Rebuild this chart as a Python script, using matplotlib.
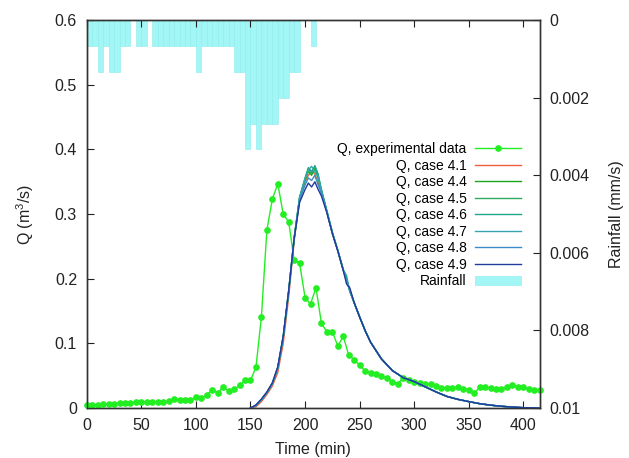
import numpy as np
import matplotlib
matplotlib.use('Agg')
import matplotlib.pyplot as plt

plt.rcParams['font.family'] = ['Liberation Sans', 'DejaVu Sans']
plt.rcParams['mathtext.default'] = 'regular'

# measured discharge, every 5 min
exp_t = np.arange(0, 420, 5)
exp_q = [0.005, 0.005, 0.0055, 0.006, 0.0065, 0.007, 0.0075, 0.008, 0.0085, 0.009,
         0.0095, 0.0095, 0.0095, 0.0095, 0.010, 0.0105, 0.014, 0.012, 0.012, 0.0125,
         0.0165, 0.015, 0.021, 0.028, 0.024, 0.032, 0.027, 0.029, 0.035, 0.043,
         0.043, 0.063, 0.141, 0.275, 0.323, 0.347, 0.300, 0.288, 0.229, 0.224,
         0.171, 0.161, 0.186, 0.131, 0.118, 0.118, 0.096, 0.111, 0.082, 0.075,
         0.066, 0.058, 0.054, 0.053, 0.049, 0.047, 0.041, 0.038, 0.046, 0.044,
         0.040, 0.039, 0.037, 0.037, 0.034, 0.031, 0.031, 0.031, 0.032, 0.030,
         0.028, 0.023, 0.032, 0.032, 0.031, 0.030, 0.030, 0.032, 0.036, 0.033,
         0.032, 0.029, 0.028, 0.028]

# simulated discharge
sim_t = [150, 155, 160, 165, 170, 175, 180, 185, 190, 195, 200, 203, 206, 209, 212, 215,
         220, 225, 230, 235, 238, 241, 245, 250, 255, 260, 270, 280, 290, 300, 310, 320,
         330, 340, 350, 360, 370, 380, 390, 400, 415]
tail = [0.076, 0.058, 0.047, 0.041, 0.033, 0.025, 0.018, 0.0135, 0.010, 0.0068,
        0.0045, 0.0028, 0.0015, 0.0006, 0.0]
case_41 = [0, 0.002, 0.010, 0.021, 0.034, 0.055, 0.100, 0.172, 0.258, 0.322, 0.350, 0.360,
           0.366, 0.362, 0.348, 0.334, 0.303, 0.270, 0.243, 0.213, 0.197, 0.182, 0.163,
           0.141, 0.120, 0.102] + tail
case_44 = [0, 0.004, 0.013, 0.024, 0.038, 0.062, 0.110, 0.180, 0.262, 0.325, 0.352, 0.366,
           0.360, 0.372, 0.355, 0.336, 0.304, 0.271, 0.244, 0.214, 0.198, 0.182, 0.163,
           0.141, 0.120, 0.102] + tail
case_45 = [0, 0.004, 0.013, 0.024, 0.038, 0.062, 0.110, 0.181, 0.263, 0.326, 0.355, 0.370,
           0.362, 0.375, 0.360, 0.338, 0.305, 0.272, 0.244, 0.214, 0.200, 0.181, 0.163,
           0.141, 0.120, 0.102] + tail
case_46 = [0, 0.004, 0.013, 0.024, 0.038, 0.062, 0.110, 0.181, 0.263, 0.326, 0.356, 0.372,
           0.366, 0.374, 0.362, 0.337, 0.305, 0.272, 0.244, 0.214, 0.205, 0.180, 0.163,
           0.141, 0.120, 0.102] + tail
case_47 = [0, 0.004, 0.013, 0.024, 0.038, 0.062, 0.110, 0.181, 0.263, 0.326, 0.354, 0.368,
           0.374, 0.365, 0.358, 0.335, 0.304, 0.271, 0.244, 0.214, 0.198, 0.182, 0.163,
           0.141, 0.120, 0.102] + tail
case_48 = [0, 0.004, 0.013, 0.024, 0.038, 0.062, 0.110, 0.180, 0.262, 0.322, 0.345, 0.356,
           0.352, 0.360, 0.345, 0.332, 0.303, 0.270, 0.243, 0.213, 0.197, 0.182, 0.163,
           0.141, 0.120, 0.102] + tail
case_49 = [0, 0.005, 0.014, 0.025, 0.039, 0.064, 0.112, 0.182, 0.262, 0.318, 0.338, 0.348,
           0.342, 0.350, 0.338, 0.328, 0.302, 0.270, 0.243, 0.213, 0.192, 0.186, 0.163,
           0.141, 0.120, 0.102] + tail
case_names = ['4.1', '4.4', '4.5', '4.6', '4.7', '4.8', '4.9']
case_colors = ['#f0603c', '#1aa81a', '#2eaa5c', '#1fa68a', '#36a6b2', '#3d8cc8', '#1f3c9c']

# rainfall, 5 min blocks starting at rain_t
rain_t = np.arange(0, 210, 5)
rain = [0.00067, 0.00067, 0.00133, 0.00067, 0.00133, 0.00133, 0.00067, 0.00067, 0, 0.00067,
        0.00067, 0, 0.00067, 0.00067, 0.00067, 0.00067, 0.00067, 0.00067, 0.00067, 0.00067,
        0.00133, 0.00067, 0.00067, 0.00067, 0.00067, 0.00067, 0.00067, 0.00133, 0.00133,
        0.00333, 0.00267, 0.00333, 0.00267, 0.00267, 0.00267, 0.002, 0.002, 0.00133,
        0.00133, 0, 0, 0.00067]

x_ticks = [0, 50, 100, 150, 200, 250, 300, 350, 400]
q_ticks = [0, 0.1, 0.2, 0.3, 0.4, 0.5, 0.6]
q_labels = ['0', '0.1', '0.2', '0.3', '0.4', '0.5', '0.6']
rain_ticks = [0, 0.002, 0.004, 0.006, 0.008, 0.01]
rain_labels = ['0', '0.002', '0.004', '0.006', '0.008', '0.01']

fig = plt.figure(figsize=(6.29, 4.58), dpi=100)
ax = fig.add_axes([0.138, 0.109, 0.720, 0.847])
ax2 = ax.twinx()

# rain bars hang from the top (inverted y2)
ax2.bar(rain_t, rain, width=5, align='edge', color='#a2f6f6', edgecolor='#8decec',
        linewidth=0.4, label='Rainfall')
ax2.set_ylim(0.01, 0)
ax.set_zorder(ax2.get_zorder() + 1)
ax.patch.set_visible(False)

ax.plot(exp_t, exp_q, '-o', color='#22ee22', lw=1, ms=3.8, clip_on=False,
        label='Q, experimental data')
for name, q, c in zip(case_names, [case_41, case_44, case_45, case_46, case_47, case_48, case_49], case_colors):
    ax.plot(sim_t, q, color=c, lw=1, label='Q, case ' + name)

ax.set_xlim(0, 415)
ax.set_ylim(0, 0.6)
ax.set_xticks(x_ticks)
ax.set_yticks(q_ticks, q_labels)
ax2.set_yticks(rain_ticks, rain_labels)
ax.tick_params(direction='in', length=5, width=0.8, labelsize=11.5, top=True, right=False,
               pad=7, colors='#222222')
ax2.tick_params(direction='in', length=5, width=0.8, labelsize=11.5, pad=7, colors='#222222')
for a in (ax, ax2):
    for s in a.spines.values():
        s.set_color('#333333')
        s.set_linewidth(1)

ax.set_xlabel('Time (min)', fontsize=11.5, color='#222222', va='center')
ax.xaxis.set_label_coords(0.5, -0.106)
ax.set_ylabel('Q (m$^3$/s)', fontsize=11.5, color='#222222', va='center')
ax.yaxis.set_label_coords(-0.137, 0.5)
ax2.set_ylabel('Rainfall (mm/s)', fontsize=11.5, color='#222222', va='center')
ax2.yaxis.set_label_coords(1.17, 0.5)

h1, l1 = ax.get_legend_handles_labels()
h2, l2 = ax2.get_legend_handles_labels()
ax.legend(h1 + h2, l1 + l2, loc='upper right', bbox_to_anchor=(0.958, 0.685), frameon=False,
          markerfirst=False, fontsize=10, handlelength=3.3, handletextpad=0.6,
          labelspacing=0.18, borderpad=0, borderaxespad=0)

fig.savefig('out.png', dpi=100)
